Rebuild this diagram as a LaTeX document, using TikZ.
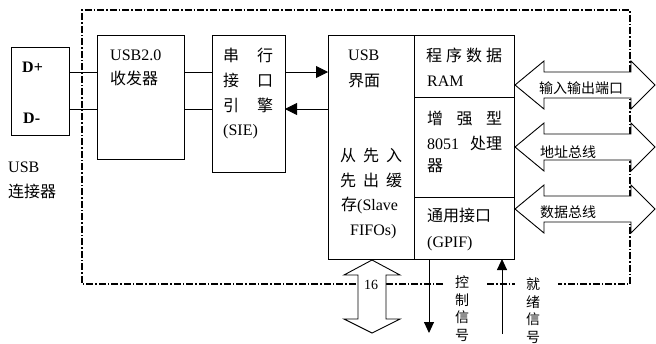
\documentclass[tikz,border=0pt]{standalone}
\usepackage{fontspec}
\setmainfont{Liberation Serif}
\newfontfamily\cjk{Noto Sans CJK SC}
\usetikzlibrary{arrows.meta}
\begin{document}
\begin{tikzpicture}[x=1pt,y=-1pt,
  box/.style={draw, line width=0.9pt, inner sep=0pt, outer sep=0pt, anchor=north west},
  txt/.style={anchor=base west, inner sep=0pt, font=\fontsize{16}{18}\selectfont},
  stxt/.style={anchor=base west, inner sep=0pt, font=\cjk\fontsize{14}{16}\selectfont},
  vtxt/.style={anchor=north, inner sep=0pt, align=center, font=\cjk\fontsize{14}{17.5}\selectfont},
  wire/.style={line width=0.9pt},
  sarrow/.style={line width=0.9pt, -{Triangle[length=12pt,width=12pt]}},
  varrow/.style={line width=0.9pt, -{Triangle[length=11pt,width=10pt]}},
  dbl/.style={draw, line width=0.9pt, fill=white, line join=miter},
  frame/.style={line width=1.2pt, dash pattern=on 7pt off 2pt on 1.5pt off 2pt}]
\useasboundingbox (0,0) rectangle (656,343);

% dash-dot frame
\coordinate (fTL) at (82,10);
\coordinate (fTR) at (630,10);
\coordinate (fBR) at (630,284);
\coordinate (fBL) at (82,284);
\coordinate (g1) at (443,284);
\coordinate (g2) at (487,284);
\coordinate (g3) at (515,284);
\coordinate (g4) at (558,284);
\draw[frame] (g1) -- (fBL) -- (fTL) -- (fTR) -- (fBR) -- (g4);
\draw[frame] (g2) -- (g3);

% boxes
\node[box, minimum width=58pt, minimum height=88pt] (conn) at (11,47) {};
\node[box, minimum width=87pt, minimum height=124pt] (xcvr) at (97,35) {};
\node[box, minimum width=73pt, minimum height=137pt] (sie) at (212,35) {};
\node[box, minimum width=86pt, minimum height=224pt] (usbif) at (328,35) {};
\node[box, minimum width=100pt, minimum height=62pt] (ram) at (414,35) {};
\node[box, minimum width=100pt, minimum height=100pt] (cpu) at (414,97) {};
\node[box, minimum width=100pt, minimum height=62pt] (gpif) at (414,197) {};

% wires
\coordinate (yp) at (0,72);
\coordinate (ym) at (0,109);
\draw[wire] (conn.east |- yp) -- (xcvr.west |- yp);
\draw[wire] (conn.east |- ym) -- (xcvr.west |- ym);
\draw[wire] (xcvr.east |- yp) -- (sie.west |- yp);
\draw[wire] (xcvr.east |- ym) -- (sie.west |- ym);
\draw[sarrow] (sie.east |- yp) -- (usbif.west |- yp);
\draw[sarrow] (usbif.west |- ym) -- (sie.east |- ym);

% texts: connector
\node[txt, font=\bfseries\fontsize{16}{18}\selectfont] (dp) at (22,72) {D+};
\node[txt, font=\bfseries\fontsize{16}{18}\selectfont] (dm) at (23,123) {D-};
\node[txt] (cl1) at (8,172) {USB};
\node[txt, font=\cjk\fontsize{16}{18}\selectfont] (cl2) at (8,197) {连接器};

% transceiver
\node[txt] (x1) at (110,60) {USB2.0};
\node[txt, font=\cjk\fontsize{16}{18}\selectfont] (x2) at (110,84) {收发器};

% SIE
\node[txt, font=\cjk\fontsize{16}{18}\selectfont] (s1) at (223,61) {\makebox[50pt][l]{串\hfill 行}};
\node[txt, font=\cjk\fontsize{16}{18}\selectfont] (s2) at (223,86) {\makebox[50pt][l]{接\hfill 口}};
\node[txt, font=\cjk\fontsize{16}{18}\selectfont] (s3) at (223,111) {\makebox[50pt][l]{引\hfill 擎}};
\node[txt] (s4) at (223,135) {(SIE)};

% USB interface
\node[txt] (u1) at (348,60) {USB};
\node[txt, font=\cjk\fontsize{16}{18}\selectfont] (u2) at (348,86) {界面};
\node[txt, font=\cjk\fontsize{16}{18}\selectfont] (u3) at (340,161) {\makebox[62pt][l]{从\hfill 先\hfill 入}};
\node[txt, font=\cjk\fontsize{16}{18}\selectfont] (u4) at (340,186) {\makebox[62pt][l]{先\hfill 出\hfill 缓}};
\node[txt] (u5) at (341,210) {{\cjk 存}(Slave};
\node[txt] (u6) at (350,235) {FIFOs)};

% right column
\node[txt, font=\cjk\fontsize{16}{18}\selectfont] (r1) at (426,61) {\makebox[76pt][l]{程\hfill 序\hfill 数\hfill 据}};
\node[txt] (r2) at (427,86) {RAM};
\node[txt, font=\cjk\fontsize{16}{18}\selectfont] (c1) at (427,124) {\makebox[75pt][l]{增\hfill 强\hfill 型}};
\node[txt] (c2) at (427,149) {\makebox[75pt][l]{8051\hfill {\cjk 处理}}};
\node[txt, font=\cjk\fontsize{16}{18}\selectfont] (c3) at (427,171) {器};
\node[txt, font=\cjk\fontsize{16}{18}\selectfont] (p1) at (427,221) {通用接口};
\node[txt] (p2) at (427,247) {(GPIF)};

% right double arrows
\foreach \c in {85,147,209} {
  \draw[dbl] (515,\c) -- (544,\c-24) -- (544,\c-13) -- (631,\c-13) -- (631,\c-24)
    -- (655,\c) -- (631,\c+24) -- (631,\c+13) -- (544,\c+13) -- (544,\c+24) -- cycle;
}
\node[stxt] (l1) at (539,93) {输入输出端口};
\node[stxt] (l2) at (540,157) {地址总线};
\node[stxt] (l3) at (540,217) {数据总线};

% bottom 16-bit arrow
\draw[dbl] (372,260) -- (400,275) -- (386,275) -- (386,319) -- (400,319) -- (372,333)
  -- (344,319) -- (358,319) -- (358,275) -- (344,275) -- cycle;
\node[inner sep=0pt, font=\fontsize{14}{16}\selectfont] (n16) at (371,285) {16};

% control / ready signals
\coordinate (ctlEnd) at (429,333);
\coordinate (rdyStart) at (502,334);
\draw[varrow] (gpif.south -| ctlEnd) -- (ctlEnd);
\draw[varrow] (rdyStart) -- (gpif.south -| rdyStart);
\node[vtxt] (ctl) at (462,276) {控\\制\\信\\号};
\node[vtxt] (rdy) at (533,278) {就\\绪\\信\\号};
\end{tikzpicture}
\end{document}
